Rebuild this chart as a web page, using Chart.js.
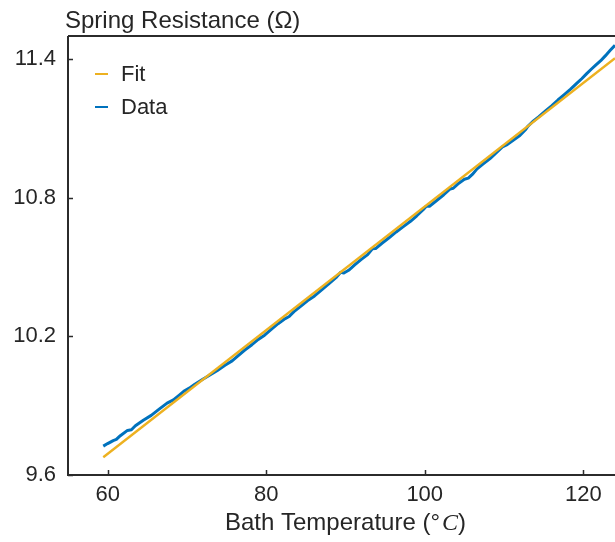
<!DOCTYPE html>
<html>
<head>
<meta charset="utf-8">
<script src="https://cdn.jsdelivr.net/npm/chart.js@4.4.1/dist/chart.umd.min.js"></script>
<style>
  html, body { margin: 0; padding: 0; background: #ffffff; }
  #wrap { width: 615px; height: 542px; position: relative; }
</style>
</head>
<body>
<div id="wrap"><canvas id="c" width="615" height="542"></canvas></div>
<script>
// Measured spring resistance vs. bath temperature
const bathTemp = [
  59.45, 60.0, 60.7, 61.1, 61.6, 62.5, 63.0, 63.5, 64.5, 65.5, 66.5, 67.5, 68.3, 69.0, 69.6,
  70.3, 71.0, 72.0, 72.8, 73.8, 74.8, 75.7, 76.4, 77.3, 78.2, 79.0, 79.8, 80.6, 81.5, 82.4,
  82.9, 83.5, 84.3, 85.2, 86.1, 87.0, 88.0, 88.8, 89.4, 89.8, 90.4, 91.2, 92.0, 92.8, 93.4,
  93.8, 94.6, 95.5, 96.4, 97.3, 98.2, 99.0, 99.8, 100.2, 100.6, 101.5, 102.4, 103.2, 103.6, 104.3,
  105.0, 105.5, 106.0, 106.6, 107.3, 108.2, 109.0, 109.8, 110.4, 111.2, 112.0, 112.7, 113.0, 113.6, 114.4,
  115.2, 116.0, 116.8, 117.6, 118.4, 119.2, 119.8, 120.4, 121.0, 121.6, 122.2, 122.8, 123.4, 124.0
];
const springRes = [
  9.725, 9.736, 9.749, 9.754, 9.770, 9.793, 9.796, 9.813, 9.837, 9.858, 9.885, 9.911, 9.925, 9.945, 9.962,
  9.976, 9.993, 10.014, 10.031, 10.051, 10.075, 10.094, 10.115, 10.141, 10.164, 10.187, 10.205, 10.229, 10.255, 10.277,
  10.286, 10.307, 10.329, 10.354, 10.375, 10.401, 10.430, 10.454, 10.477, 10.474, 10.486, 10.510, 10.533, 10.554, 10.579,
  10.580, 10.603, 10.627, 10.652, 10.675, 10.698, 10.722, 10.748, 10.763, 10.763, 10.788, 10.813, 10.838, 10.841, 10.863,
  10.880, 10.885, 10.901, 10.925, 10.945, 10.968, 10.994, 11.020, 11.030, 11.050, 11.069, 11.094, 11.109, 11.129, 11.151,
  11.175, 11.198, 11.223, 11.246, 11.270, 11.296, 11.315, 11.336, 11.356, 11.375, 11.393, 11.415, 11.438, 11.460
];

// Linear fit endpoints
const fitTemp = [59.45, 124.0];
const fitRes = [9.677, 11.404];

// Axis ranges and tick values
const xRange = [55, 124];
const yRange = [9.6, 11.5];
const xTicks = [60, 80, 100, 120];
const yTicks = [9.6, 10.2, 10.8, 11.4];

const seriesLabels = ['Fit', 'Data'];
const axisTitleX = ['Bath Temperature (', '°', 'C', ')'];
const axisTitleY = 'Spring Resistance (Ω)';

const SANS = '"Liberation Sans", Arial, Helvetica, sans-serif';
const INK = '#262626';
const AXIS_INK = '#2b2b2b';

const toPoints = (xs, ys) => xs.map((x, i) => ({ x: x, y: ys[i] }));

// Frame: left/bottom axes, top border and inward tick marks
const framePlugin = {
  id: 'frame',
  afterDraw(chart) {
    const { ctx, chartArea: a, scales } = chart;
    ctx.save();
    ctx.strokeStyle = AXIS_INK;
    ctx.lineWidth = 2;
    ctx.beginPath();
    ctx.moveTo(a.left, a.top);
    ctx.lineTo(a.left, a.bottom);
    ctx.lineTo(a.right, a.bottom);
    ctx.moveTo(a.left, a.top);
    ctx.lineTo(a.right, a.top);
    ctx.stroke();
    ctx.lineWidth = 1.5;
    ctx.beginPath();
    scales.x.ticks.forEach(t => {
      const px = Math.round(scales.x.getPixelForValue(t.value)) + 0.5;
      ctx.moveTo(px, a.bottom);
      ctx.lineTo(px, a.bottom - 5);
    });
    scales.y.ticks.forEach(t => {
      const py = Math.round(scales.y.getPixelForValue(t.value)) + 0.5;
      ctx.moveTo(a.left, py);
      ctx.lineTo(a.left + 5, py);
    });
    ctx.stroke();
    ctx.restore();
  }
};

// Axis titles
const titlePlugin = {
  id: 'titles',
  afterDraw(chart) {
    const { ctx, chartArea: a } = chart;
    ctx.save();
    ctx.fillStyle = INK;
    ctx.textBaseline = 'alphabetic';
    ctx.textAlign = 'left';
    ctx.font = '24px ' + SANS;
    ctx.fillText(axisTitleY, a.left - 3, 28);

    const fonts = ['24px ' + SANS, '24px ' + SANS, 'italic 24px "Liberation Serif", "Times New Roman", serif', '24px ' + SANS];
    const widths = axisTitleX.map((s, i) => { ctx.font = fonts[i]; return ctx.measureText(s).width; });
    const gap = 2;
    const total = widths.reduce((p, w) => p + w, 0) + gap;
    let x = (a.left + a.right) / 2 + 4 - total / 2;
    axisTitleX.forEach((s, i) => {
      ctx.font = fonts[i];
      ctx.fillText(s, x, 530);
      x += widths[i] + (i === 1 ? gap : 0);
    });
    ctx.restore();
  }
};

// Legend in the upper-left corner of the plot
const legendPlugin = {
  id: 'insetLegend',
  afterDraw(chart) {
    const { ctx, chartArea: a } = chart;
    ctx.save();
    ctx.font = '22px ' + SANS;
    ctx.textBaseline = 'middle';
    ctx.textAlign = 'left';
    chart.data.datasets.forEach((ds, i) => {
      const y = a.top + 38 + i * 33;
      ctx.strokeStyle = ds.borderColor;
      ctx.lineWidth = 2;
      ctx.beginPath();
      ctx.moveTo(a.left + 27, y);
      ctx.lineTo(a.left + 40, y);
      ctx.stroke();
      ctx.fillStyle = INK;
      ctx.fillText(ds.label, a.left + 53, y + 1);
    });
    ctx.restore();
  }
};

new Chart(document.getElementById('c'), {
  type: 'line',
  data: {
    datasets: [
      {
        label: seriesLabels[0],
        data: toPoints(fitTemp, fitRes),
        borderColor: '#EDB120',
        borderWidth: 2.4,
        pointRadius: 0,
        tension: 0
      },
      {
        label: seriesLabels[1],
        data: toPoints(bathTemp, springRes),
        borderColor: '#0072BD',
        borderWidth: 3,
        pointRadius: 0,
        tension: 0,
        borderJoinStyle: 'round'
      }
    ]
  },
  options: {
    responsive: false,
    devicePixelRatio: 1,
    animation: false,
    layout: { padding: { top: 36, right: 0, bottom: 0, left: 0 } },
    plugins: { legend: { display: false }, tooltip: { enabled: false }, title: { display: false } },
    scales: {
      x: {
        type: 'linear',
        min: xRange[0],
        max: xRange[1],
        afterBuildTicks: s => { s.ticks = xTicks.map(v => ({ value: v })); },
        afterFit: s => { s.height = 67; },
        grid: { display: false, drawTicks: false },
        border: { display: false },
        ticks: {
          padding: 7,
          color: INK,
          font: { family: SANS, size: 22 },
          callback: v => String(v)
        }
      },
      y: {
        type: 'linear',
        min: yRange[0],
        max: yRange[1],
        afterBuildTicks: s => { s.ticks = yTicks.map(v => ({ value: v })); },
        afterFit: s => { s.width = 68; },
        grid: { display: false, drawTicks: false },
        border: { display: false },
        ticks: {
          padding: 12,
          color: INK,
          font: { family: SANS, size: 22 },
          callback: v => Number(v).toFixed(1)
        }
      }
    }
  },
  plugins: [framePlugin, titlePlugin, legendPlugin]
});
</script>
</body>
</html>
